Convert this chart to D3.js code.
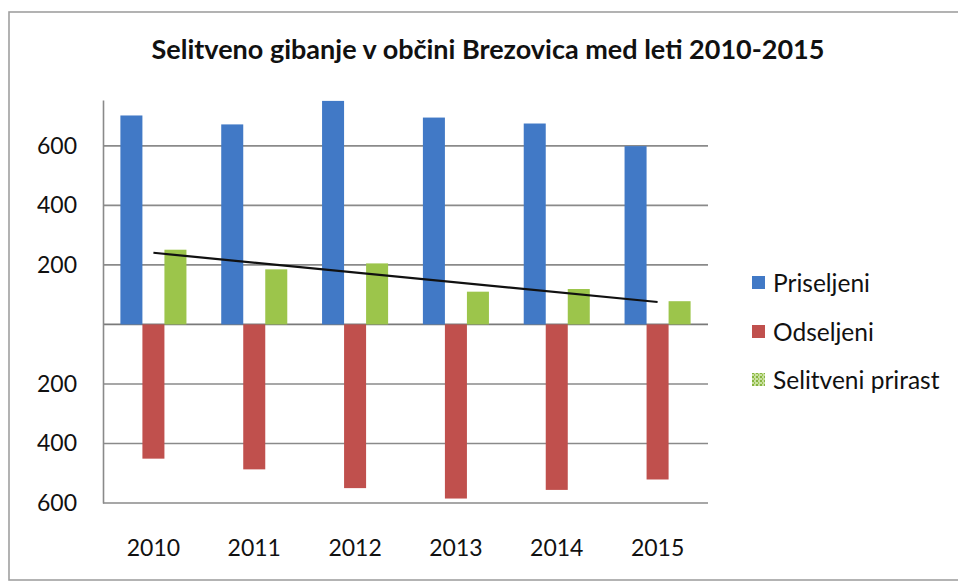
<!DOCTYPE html>
<html><head><meta charset="utf-8">
<script src="https://cdn.jsdelivr.net/npm/d3@7"></script>
<style>
html,body{margin:0;padding:0;background:#fff;}
svg{display:block;font-family:Lato,"Open Sans",sans-serif;}
</style></head>
<body>
<svg id="c" width="958" height="583"></svg>
<script>
const title = "Selitveno gibanje v občini Brezovica med leti 2010-2015";
const years = ["2010","2011","2012","2013","2014","2015"];
const priseljeni = [702, 672, 751, 695, 675, 599];
const odseljeni = [451, 487, 550, 585, 556, 521];
const prirast = [251, 185, 205, 110, 119, 78];
const seriesNames = ["Priseljeni","Odseljeni","Selitveni prirast"];
const seriesColors = ["#4179c6","#c0504d","#9cc54b"];
const yTicks = [-600,-400,-200,0,200,400,600];

const svg = d3.select("#c");
const W = 958, H = 583;
const L = 103, R = 708, T = 100, B = 503;

// outer border
svg.append("rect").attr("x",9).attr("y",12).attr("width",W+10).attr("height",568)
  .attr("fill","none").attr("stroke","#a0a0a0").attr("stroke-width",1.6);

// title
svg.append("text").attr("x",488).attr("y",59).attr("text-anchor","middle")
  .attr("font-size",27).attr("font-weight","bold").attr("fill","#111").text(title);

const x0 = d3.scaleBand().domain(years).range([L,R]).paddingInner(0.345).paddingOuter(0.1725);
const x1 = d3.scaleBand().domain(seriesNames).range([0,x0.bandwidth()]);
const y = d3.scaleLinear().domain([-600,754]).range([B,T]);

// gridlines
const g = svg.append("g");
g.selectAll("line.grid").data(yTicks).enter().append("line")
  .attr("x1",L).attr("x2",R).attr("y1",d=>y(d)).attr("y2",d=>y(d))
  .attr("stroke",d=>d===0?"#7a7a7a":"#8a8a8a").attr("stroke-width",1.6);

// y axis
const yAxis = d3.axisLeft(y).tickValues(yTicks).tickSize(0).tickPadding(26)
  .tickFormat(d => d===0 ? "" : String(Math.abs(d)));
const ya = svg.append("g").attr("transform",`translate(${L},0)`).call(yAxis);
ya.select(".domain").attr("stroke","#8a8a8a").attr("stroke-width",1.6);
ya.selectAll("text").attr("font-size",23).attr("fill","#111").attr("font-family","Lato,sans-serif");

// bars
const seriesVals = [priseljeni, odseljeni.map(v=>-v), prirast];
seriesNames.forEach((name,si)=>{
  svg.append("g").selectAll("rect").data(years).enter().append("rect")
    .attr("x",d=>x0(d)+x1(name))
    .attr("width",x1.bandwidth())
    .attr("y",(d,i)=>y(Math.max(0,seriesVals[si][i])))
    .attr("height",(d,i)=>Math.abs(y(seriesVals[si][i])-y(0)))
    .attr("fill",seriesColors[si]);
});

// x labels
svg.append("g").selectAll("text").data(years).enter().append("text")
  .attr("x",d=>x0(d)+x0.bandwidth()/2).attr("y",556).attr("text-anchor","middle")
  .attr("font-size",23).attr("fill","#111").text(d=>d);

// linear trendline for prirast
const n = prirast.length;
const xs = d3.range(n);
const mx = d3.mean(xs), my = d3.mean(prirast);
const slope = d3.sum(xs.map((xi,i)=>(xi-mx)*(prirast[i]-my))) / d3.sum(xs.map(xi=>(xi-mx)*(xi-mx)));
const icpt = my - slope*mx;
const cx = i => x0(years[i]) + x0.bandwidth()/2;
svg.append("line")
  .attr("x1",cx(0)).attr("y1",y(icpt))
  .attr("x2",cx(n-1)).attr("y2",y(icpt+slope*(n-1)))
  .attr("stroke","#111").attr("stroke-width",2.2);

// legend
const defs = svg.append("defs");
const pat = defs.append("pattern").attr("id","gp").attr("patternUnits","userSpaceOnUse")
  .attr("width",4).attr("height",4);
pat.append("rect").attr("width",4).attr("height",4).attr("fill","#c8e0a0");
pat.append("rect").attr("x",0).attr("y",0).attr("width",2).attr("height",2).attr("fill","#86b440");
pat.append("rect").attr("x",2).attr("y",2).attr("width",1).attr("height",2).attr("fill","#9cc54b");

const legY = [283, 332, 380];
const leg = svg.append("g");
seriesNames.forEach((name,i)=>{
  leg.append("rect").attr("x",752).attr("y",legY[i]-7).attr("width",13).attr("height",13)
    .attr("fill", i===2 ? "url(#gp)" : seriesColors[i]);
  leg.append("text").attr("x",773).attr("y",legY[i]).attr("dy","0.35em")
    .attr("font-size",24.5).attr("fill","#111").text(name);
});
</script>
</body></html>
